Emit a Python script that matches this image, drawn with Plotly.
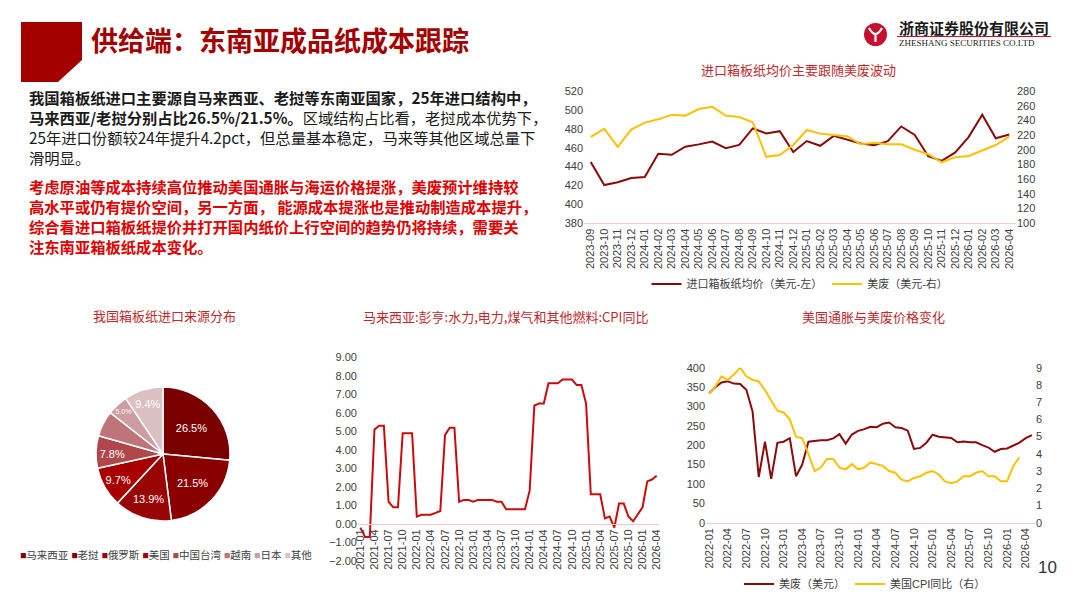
import plotly.graph_objects as go

W, H = 1080, 607
SANS = "Liberation Sans, Noto Sans CJK SC, sans-serif"
CJK = "Noto Sans CJK SC, sans-serif"
DARK = "#8B0A0A"
GOLD = "#FFC000"
PINK = "#F6C9C9"
TICK = "#404040"
TITLE_RED = "#C0282D"


def month_labels(year, month, count):
    out = []
    for _ in range(count):
        out.append(f"{year}-{month:02d}")
        month += 1
        if month > 12:
            year, month = year + 1, 1
    return out


# 进口箱板纸均价 vs 美废 (2023-09 ~ 2026-04)
months_top = month_labels(2023, 9, 32)
price_imported = [445, 420.5, 423.5, 428, 429, 453.5, 452.5, 461, 463.5, 466.5, 459.5, 463,
                  480.5, 475, 477.5, 455.5, 467, 462, 472.5, 468.5, 464.5, 462.5, 467, 482.5,
                  473.5, 451, 446, 455, 471.5, 495, 470, 474]
price_occ = [217.5, 228.5, 204, 227.5, 237, 241.5, 247.5, 246.5, 255.5, 258.5, 246.5, 244.5,
             237.5, 190.5, 193, 206.5, 227, 222, 220, 218.5, 207.5, 209.5, 207.5, 207.5,
             200, 194, 183, 190, 191.5, 199.5, 206.5, 218]

# 我国箱板纸进口来源分布 (%)
origin_names = ["马来西亚", "老挝", "俄罗斯", "美国", "中国台湾", "越南", "日本", "其他"]
origin_share = [26.5, 21.5, 13.9, 9.7, 7.8, 6.2, 5.0, 9.4]
origin_colors = ["#7A0000", "#8A0000", "#990505", "#A80000", "#B0474B", "#BF7479", "#CC9CA0", "#DCBFC2"]

# 马来西亚:彭亨:水力,电力,煤气和其他燃料:CPI同比 (2021-01 ~ 2026-04)
months_my = month_labels(2021, 1, 64)
cpi_pahang = [-0.2, -0.7, -0.7, 5.1, 5.3, 5.3, 1.2, 0.9, 0.9, 4.9, 4.9, 4.9,
              0.4, 0.5, 0.5, 0.5, 0.6, 0.7, 4.8, 5.2, 5.2, 1.2, 1.3, 1.3,
              1.2, 1.3, 1.3, 1.3, 1.3, 1.2, 1.2, 0.8, 0.8, 0.8, 0.8, 0.8,
              1.8, 6.4, 6.5, 6.5, 7.6, 7.6, 7.6, 7.8, 7.8, 7.8, 7.5, 7.5,
              6.5, 1.6, 1.6, 1.6, 0.3, 0.4, -0.2, 1.1, 1.1, 0.4, 0.15, 0.5,
              0.9, 2.3, 2.4, 2.6]

# 美国通胀与美废价格 (2022-01 ~ 2026-05)
months_us = month_labels(2022, 1, 53)
occ_us = [334, 350, 362, 365, 359, 358, 343, 287, 118, 209, 113, 206,
          209, 218, 120, 150, 209, 211, 213, 213, 217.5, 228.5, 204, 227.5,
          237, 241.5, 247.5, 246.5, 255.5, 258.5, 246.5, 244.5, 237.5, 190.5, 193, 206.5,
          227, 222, 220, 218.5, 207.5, 209.5, 207.5, 207.5, 200, 194, 183, 190,
          191.5, 199.5, 206.5, 218, 226]
cpi_us = [7.5, 7.9, 8.5, 8.3, 8.6, 9.0, 8.5, 8.3, 8.2, 7.7, 7.1, 6.5,
          6.4, 6.0, 5.0, 4.9, 4.0, 3.0, 3.2, 3.7, 3.7, 3.2, 3.1, 3.4,
          3.1, 3.2, 3.5, 3.4, 3.3, 3.0, 2.9, 2.5, 2.4, 2.6, 2.7, 2.9,
          3.0, 2.8, 2.4, 2.3, 2.4, 2.7, 2.7, 2.9, 3.0, 2.7, 2.7, 2.4,
          2.4, 3.3, 3.8]


def fx(px):
    return px / W


def fy(py):
    return 1 - py / H


fig = go.Figure()

# top right chart
fig.add_trace(go.Scatter(x=months_top, y=price_imported, mode="lines", name="进口箱板纸均价（美元-左）",
                         line=dict(color=DARK, width=2), xaxis="x", yaxis="y", legend="legend"))
fig.add_trace(go.Scatter(x=months_top, y=price_occ, mode="lines", name="美废（美元-右）",
                         line=dict(color=GOLD, width=2), xaxis="x", yaxis="y2", legend="legend"))

# pie
pie_text = [f"{v:.1f}%" if n != "越南" else "" for n, v in zip(origin_names, origin_share)]
fig.add_trace(go.Pie(labels=origin_names, values=origin_share, sort=False, direction="clockwise",
                     rotation=0, text=pie_text, texttemplate="%{text}", textposition="inside",
                     insidetextorientation="horizontal",
                     insidetextfont=dict(color="white", size=11, family=SANS),
                     marker=dict(colors=origin_colors, line=dict(color="white", width=1.5)),
                     domain=dict(x=[fx(96), fx(230)], y=[fy(521), fy(387)]),
                     showlegend=False, hoverinfo="label+percent"))

# middle chart
fig.add_trace(go.Scatter(x=months_my, y=cpi_pahang, mode="lines", showlegend=False,
                         line=dict(color="#CC0A0A", width=2), xaxis="x2", yaxis="y3"))

# bottom right chart
fig.add_trace(go.Scatter(x=months_us, y=occ_us, mode="lines", name="美废（美元）",
                         line=dict(color=DARK, width=2), xaxis="x3", yaxis="y4", legend="legend2"))
fig.add_trace(go.Scatter(x=months_us[:len(cpi_us)], y=cpi_us, mode="lines", name="美国CPI同比（右）",
                         line=dict(color=GOLD, width=2), xaxis="x3", yaxis="y5", legend="legend2"))

tick_font = dict(family=SANS, size=11, color=TICK)
common = dict(showgrid=False, zeroline=False, ticks="", fixedrange=True, tickfont=tick_font)

mid_dom = [fy(561), fy(357.3)]
mid_range = [-2, 9]
zero_pos = mid_dom[0] + (0 - mid_range[0]) / (mid_range[1] - mid_range[0]) * (mid_dom[1] - mid_dom[0])

fig.update_layout(
    width=W, height=H, template="none", autosize=False,
    margin=dict(l=0, r=0, t=0, b=0),
    paper_bgcolor="white", plot_bgcolor="rgba(0,0,0,0)",
    font=dict(family=SANS, color=TICK),
    xaxis=dict(domain=[fx(584), fx(1016)], anchor="y", type="category",
               range=[-0.5, len(months_top) - 0.5], tickangle=-90, showline=True,
               linecolor=PINK, linewidth=1, **common),
    yaxis=dict(domain=[fy(223.3), fy(91)], anchor="x", range=[380, 520], dtick=20, **common),
    yaxis2=dict(overlaying="y", side="right", anchor="x", range=[100, 280], dtick=20, **common),
    xaxis2=dict(domain=[fx(358), fx(659)], anchor="free", position=zero_pos, type="category",
                range=[-0.5, len(months_my) - 0.5], tickvals=months_my[::3], tickangle=-90,
                showline=True, linecolor=PINK, linewidth=1, **common),
    yaxis3=dict(domain=mid_dom, anchor="x2", range=mid_range, dtick=1, tickformat=".2f", **common),
    xaxis3=dict(domain=[fx(706), fx(1035)], anchor="y4", type="category",
                range=[-0.5, len(months_us) - 0.5], tickvals=months_us[::3], tickangle=-90,
                showline=True, linecolor=PINK, linewidth=1, **common),
    yaxis4=dict(domain=[fy(522.7), fy(367.7)], anchor="x3", range=[0, 400], dtick=50, **common),
    yaxis5=dict(overlaying="y4", side="right", anchor="x3", range=[0, 9], dtick=1, **common),
    legend=dict(orientation="h", x=fx(800), xanchor="center", y=fy(284), yanchor="middle",
                font=dict(family=SANS, size=11, color=TICK), bgcolor="rgba(0,0,0,0)", itemwidth=30),
    legend2=dict(orientation="h", x=fx(865), xanchor="center", y=fy(584), yanchor="middle",
                 font=dict(family=SANS, size=11, color=TICK), bgcolor="rgba(0,0,0,0)", itemwidth=30),
)

# header block and logo
fig.add_shape(type="path", xref="paper", yref="paper",
              path=f"M {fx(21)} {fy(22)} L {fx(82)} {fy(22)} L {fx(82)} {fy(60)} "
                   f"L {fx(58)} {fy(82)} L {fx(21)} {fy(82)} Z",
              fillcolor="#A50000", line=dict(width=0))
fig.add_shape(type="circle", xref="paper", yref="paper",
              x0=fx(864), x1=fx(887), y0=fy(46), y1=fy(23), fillcolor="#C8102E", line=dict(width=0))
fig.add_shape(type="path", xref="paper", yref="paper",
              path=f"M {fx(869)} {fy(28)} Q {fx(875.5)} {fy(40)} {fx(882)} {fy(28)} "
                   f"M {fx(875.5)} {fy(33)} L {fx(875.5)} {fy(42)}",
              line=dict(color="white", width=2.2))
fig.add_shape(type="line", xref="paper", yref="paper",
              x0=fx(897), x1=fx(1051), y0=fy(36.5), y1=fy(36.5), line=dict(color="#C8102E", width=1))

ann = []


def text(x, y, s, size, color, family=CJK, xanchor="left", yanchor="middle"):
    ann.append(dict(x=fx(x), y=fy(y), xref="paper", yref="paper", text=s, showarrow=False,
                    xanchor=xanchor, yanchor=yanchor, align="left",
                    font=dict(size=size, color=color, family=family)))


text(89, 40, "<b>供给端：东南亚成品纸成本跟踪</b>", 27, "#A50000")
text(897, 27.5, "<b>浙商证券股份有限公司</b>", 15, "#1a1a1a")
text(897, 43, "ZHESHANG SECURITIES CO.LTD", 9, "#1a1a1a", family="Liberation Serif, serif")

black_lines = [
    "<b>我国箱板纸进口主要源自马来西亚、老挝等东南亚国家，25年进口结构中，</b>",
    "<b>马来西亚/老挝分别占比26.5%/21.5%。</b>区域结构占比看，老挝成本优势下，",
    "25年进口份额较24年提升4.2pct，但总量基本稳定，马来等其他区域总量下",
    "滑明显。",
]
red_lines = [
    "考虑原油等成本持续高位推动美国通胀与海运价格提涨，美废预计维持较",
    "高水平或仍有提价空间，另一方面， 能源成本提涨也是推动制造成本提升，",
    "综合看进口箱板纸提价并打开国内纸价上行空间的趋势仍将持续，需要关",
    "注东南亚箱板纸成本变化。",
]
text(27, 84, "<br>".join(black_lines), 15.3, "#1a1a1a", yanchor="top")
text(27, 173, "<b>" + "<br>".join(red_lines) + "</b>", 15.3, "#E00000", yanchor="top")

text(798, 69, "进口箱板纸均价主要跟随美废波动", 13, TITLE_RED, xanchor="center")
text(164, 315, "我国箱板纸进口来源分布", 13, TITLE_RED, xanchor="center")
text(505, 317, "马来西亚:彭亨:水力,电力,煤气和其他燃料:CPI同比", 13, TITLE_RED, xanchor="center")
text(873, 316, "美国通胀与美废价格变化", 13, TITLE_RED, xanchor="center")

pie_legend = " ".join(f"<span style='color:{c}'>■</span>{n}" for n, c in zip(origin_names, origin_colors))
text(166, 555, pie_legend, 10.5, TICK, family=SANS, xanchor="center")

text(1047, 567, "10", 17, "#333333", family=SANS, xanchor="center")

fig.update_layout(annotations=ann)
fig.write_html("out.html", config={"displayModeBar": False},
               post_script="document.body.style.margin='0px';")
